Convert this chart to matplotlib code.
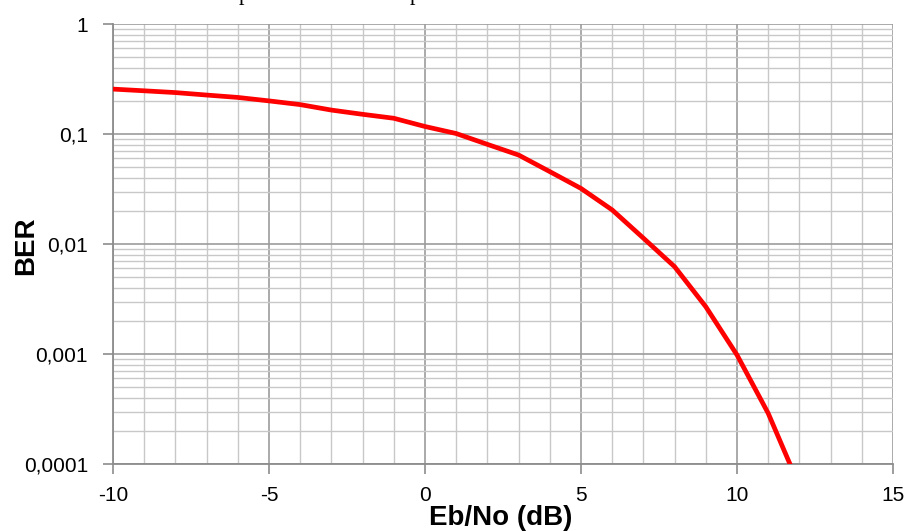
import matplotlib
matplotlib.use("Agg")
import matplotlib.pyplot as plt
from matplotlib.ticker import FixedLocator, LogLocator, NullFormatter, MultipleLocator

ebno_db = [-10, -9, -8, -7, -6, -5, -4, -3, -2, -1, 0, 1, 2, 3, 4, 5, 6, 7, 8, 9, 10, 11, 12]
ber = [0.256, 0.247, 0.238, 0.226, 0.215, 0.200, 0.185, 0.165, 0.151, 0.139, 0.117, 0.101,
       0.0805, 0.0644, 0.0455, 0.032, 0.0204, 0.0113, 0.00622, 0.00269, 0.00098, 0.000289, 0.000063]

y_ticks = [1e-4, 1e-3, 1e-2, 1e-1, 1]
y_tick_labels = ["0,0001", "0,001", "0,01", "0,1", "1"]
x_ticks = [-10, -5, 0, 5, 10, 15]
x_tick_labels = ["-10", "-5", "0", "5", "10", "15"]

plt.rcParams['font.family'] = ['Liberation Sans', 'DejaVu Sans']

W, H = 908, 531
fig = plt.figure(figsize=(W / 100, H / 100), dpi=100)
ax = fig.add_axes([113 / W, 1 - 464 / H, (893 - 113) / W, (464 - 24) / H])

ax.set_yscale('log')
ax.set_xlim(-10, 15)
ax.set_ylim(1e-4, 1)

ax.plot(ebno_db, ber, color='#ff0000', lw=3.4, solid_joinstyle='round', zorder=3)

ax.xaxis.set_major_locator(FixedLocator(x_ticks))
ax.xaxis.set_minor_locator(MultipleLocator(1))
ax.set_xticklabels(x_tick_labels)
ax.yaxis.set_major_locator(FixedLocator(y_ticks))
ax.set_yticklabels(y_tick_labels)
ax.yaxis.set_minor_locator(LogLocator(base=10, subs=range(2, 10)))
ax.yaxis.set_minor_formatter(NullFormatter())

ax.grid(which='minor', color='#c8c8c8', lw=1.0)
ax.grid(which='major', color='#9c9c9c', lw=1.2)
ax.set_axisbelow(True)

for s in ['top', 'right']:
    ax.spines[s].set_visible(False)
for s in ['left', 'bottom']:
    ax.spines[s].set_color('#8c8c8c')
    ax.spines[s].set_linewidth(1.3)

ax.tick_params(which='major', direction='out', length=7, width=1.2, color='#8c8c8c',
               labelsize=15, labelcolor='black')
ax.tick_params(axis='x', pad=9)
ax.tick_params(axis='y', pad=11)
ax.tick_params(which='minor', length=0)

fig.text(26 / W, 1 - 246 / H, 'BER', fontsize=20, fontweight='bold', rotation=90,
         ha='center', va='center')
fig.text(501 / W, 1 - 525 / H, 'Eb/No (dB)', fontsize=20, fontweight='bold',
         ha='center', va='baseline')

# cut-off descenders of text above the chart
fig.text(239 / W, 1.0, 'p', fontsize=16, family='Liberation Serif', va='baseline', ha='left')
fig.text(410 / W, 1.0, 'p', fontsize=16, family='Liberation Serif', va='baseline', ha='left')

fig.savefig('out.png', dpi=100, facecolor='white')
